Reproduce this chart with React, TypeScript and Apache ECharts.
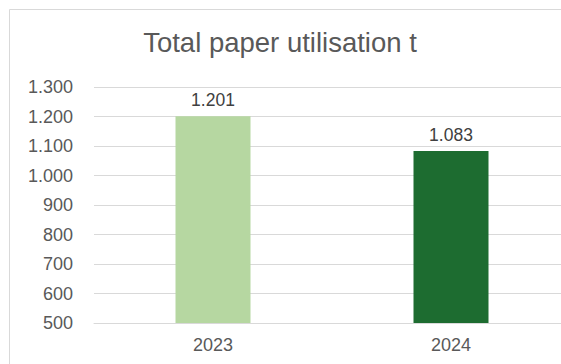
import React, { useEffect, useRef } from "react";
import * as echarts from "echarts";

const categories = ["2023", "2024"];
const values = [1201, 1083];
const barColors = ["#b6d7a1", "#1d6c30"];
const titleText = "Total paper utilisation t";

const fmt = (v: number) => {
  const s = Math.round(v).toString();
  return s.replace(/\B(?=(\d{3})+(?!\d))/g, ".");
};

export default function App() {
  const ref = useRef<HTMLDivElement>(null);
  useEffect(() => {
    if (!ref.current) return;
    const chart = echarts.init(ref.current, null, { renderer: "svg" });
    chart.setOption({
      animation: false,
      backgroundColor: "#ffffff",
      graphic: [
        {
          type: "rect",
          shape: { x: 9.5, y: 9.5, width: 620, height: 400 },
          style: { fill: "none", stroke: "#d9d9d9", lineWidth: 1 },
          silent: true,
          z: -1,
        },
        {
          type: "text",
          x: 280,
          y: 42,
          style: {
            text: titleText,
            fontFamily: "Liberation Sans",
            fontSize: 27.5,
            fill: "#595959",
            align: "center",
            verticalAlign: "middle",
          },
        },
      ],
      grid: { left: 94, right: 0, top: 87, bottom: 41 },
      xAxis: {
        type: "category",
        data: categories,
        axisTick: { show: false },
        axisLine: { lineStyle: { color: "#d9d9d9" } },
        axisLabel: { color: "#595959", fontSize: 18, fontFamily: "Liberation Sans", margin: 13 },
      },
      yAxis: {
        type: "value",
        min: 500,
        max: 1300,
        interval: 100,
        axisLine: { show: false },
        axisTick: { show: false },
        splitLine: { lineStyle: { color: "#d9d9d9" } },
        axisLabel: {
          color: "#595959",
          fontSize: 18,
          fontFamily: "Liberation Sans",
          margin: 21,
          formatter: (v: number) => fmt(v),
        },
      },
      series: [
        {
          type: "bar",
          barWidth: 75,
          data: values.map((v, i) => ({ value: v, itemStyle: { color: barColors[i] } })),
          label: {
            show: true,
            position: "top",
            distance: 7,
            color: "#404040",
            fontSize: 17.5,
            fontFamily: "Liberation Sans",
            formatter: (p: any) => fmt(p.value),
          },
        },
      ],
    });
    return () => chart.dispose();
  }, []);
  return (
    <div style={{ position: "fixed", left: 0, top: 0, width: 561, height: 364, overflow: "hidden" }}>
      <div ref={ref} style={{ width: 570, height: 364 }} />
    </div>
  );
}
